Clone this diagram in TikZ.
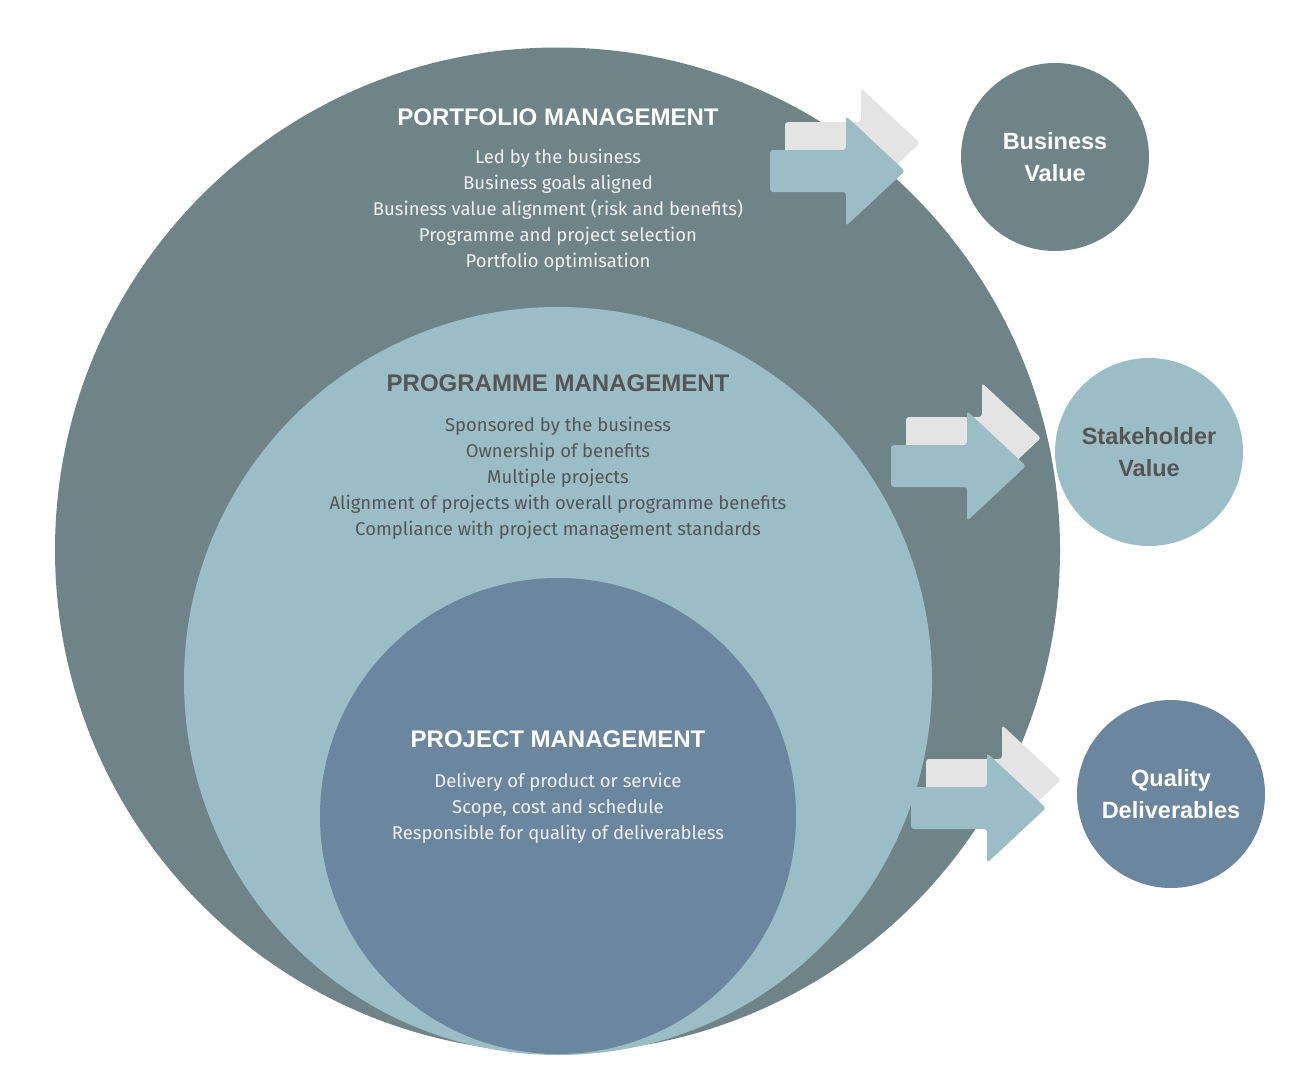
\documentclass[tikz,border=0pt]{standalone}
\usepackage{fontspec}
\setmainfont{Fira Sans}
\newfontfamily\headfont{Liberation Sans}
\usepackage{xcolor}
\usetikzlibrary{positioning}
\definecolor{pfdark}{HTML}{6E8489}
\definecolor{pglight}{HTML}{9BBDC6}
\definecolor{prblue}{HTML}{6B87A0}
\definecolor{arrshade}{HTML}{E4E4E4}
\definecolor{txtgrey}{HTML}{555555}

\newcommand{\valuearrow}[1]{%
  \fill[arrshade,rounded corners=3pt,shift={#1}] (15,-28) -- (91,-28) -- (91,-62) -- (150,-7) -- (91,48) -- (91,14) -- (15,14) -- cycle;
  \fill[pglight,rounded corners=3pt,shift={#1}] (0,0) -- (76,0) -- (76,-34) -- (135,21) -- (76,76) -- (76,42) -- (0,42) -- cycle;
}

\begin{document}
\begin{tikzpicture}[x=1pt,y=-1pt,
  ring/.style={circle,inner sep=0pt,draw=none},
  valc/.style={circle,inner sep=0pt,minimum size=188,align=center,font=\headfont\bfseries\fontsize{23.5}{32}\selectfont},
  head/.style={font=\headfont\bfseries\fontsize{24}{28}\selectfont},
  body/.style={align=center,font=\fontsize{18.5}{26}\selectfont}
]
\useasboundingbox (0,0) rectangle (1299,1087);
\node[ring,fill=pfdark,minimum size=1005] (portfolio) at (557.5,550) {};
\node[ring,fill=pglight,minimum size=748] (programme) at (558,681) {};
\node[ring,fill=prblue,minimum size=476] (project) at (558,816) {};

\node[head,text=white] (pfhead) at (558,117) {PORTFOLIO MANAGEMENT};
\node[body,text=white!94!black] (pfbody) at (558,210) {Led by the business\\Business goals aligned\\Business value alignment (risk and benefits)\\Programme and project selection\\Portfolio optimisation};
\node[head,text=txtgrey] (pghead) at (558,383) {PROGRAMME MANAGEMENT};
\node[body,text=txtgrey] (pgbody) at (558,478) {Sponsored by the business\\Ownership of benefits\\Multiple projects\\Alignment of projects with overall programme benefits\\Compliance with project management standards};
\node[head,text=white] (prhead) at (558,739) {PROJECT MANAGEMENT};
\node[body,text=white!94!black] (prbody) at (558,808) {Delivery of product or service\\Scope, cost and schedule\\Responsible for quality of deliverabless};

\node[valc,fill=pfdark,text=white] (bizval) at (1055,157) {Business\\Value};
\node[valc,fill=pglight,text=txtgrey] (stakeval) at (1149,452) {Stakeholder\\Value};
\node[valc,fill=prblue,text=white] (qualdel) at (1171,794) {Quality\\Deliverables};

\valuearrow{(770,150)}
\valuearrow{(891,445)}
\valuearrow{(911,787)}
\end{tikzpicture}
\end{document}
